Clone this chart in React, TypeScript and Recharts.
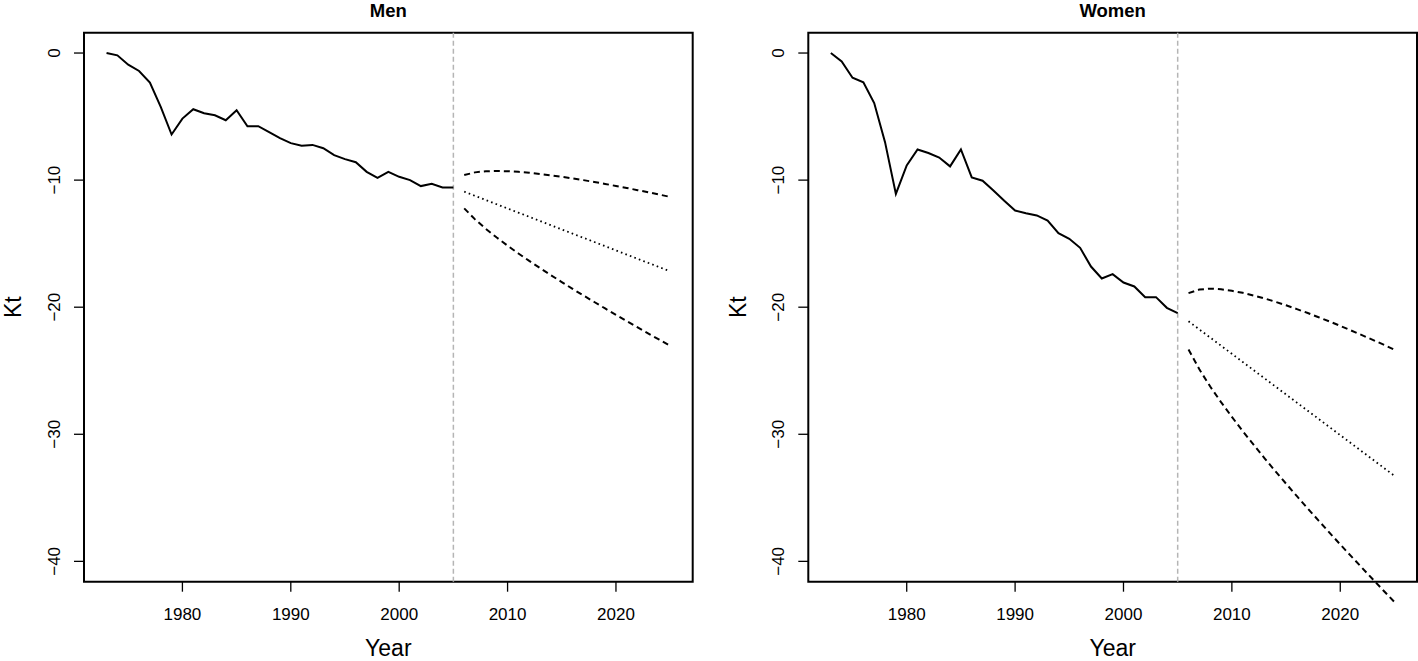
import { LineChart, Line, XAxis, YAxis, ReferenceLine, ReferenceArea } from "recharts"

// observed period
const histYears = [
  1973, 1974, 1975, 1976, 1977, 1978, 1979, 1980, 1981, 1982, 1983, 1984, 1985, 1986, 1987, 1988, 1989,
  1990, 1991, 1992, 1993, 1994, 1995, 1996, 1997, 1998, 1999, 2000, 2001, 2002, 2003, 2004, 2005,
]
const menKt = [
  0, -0.18, -0.92, -1.41, -2.33, -4.24, -6.41, -5.16, -4.42, -4.74, -4.9, -5.29, -4.5, -5.76, -5.76, -6.23,
  -6.7, -7.09, -7.3, -7.23, -7.49, -8.04, -8.35, -8.59, -9.35, -9.82, -9.35, -9.74, -10.0, -10.47, -10.29,
  -10.58, -10.58,
]
const womenKt = [
  0, -0.66, -1.94, -2.31, -3.94, -7.01, -11.08, -8.85, -7.59, -7.87, -8.22, -8.92, -7.59, -9.79, -10.05,
  -10.81, -11.63, -12.39, -12.6, -12.78, -13.18, -14.17, -14.62, -15.33, -16.8, -17.74, -17.4, -18.06,
  -18.37, -19.21, -19.21, -20.05, -20.47,
]

// forecast period
const fcYears = [
  2006, 2007, 2008, 2009, 2010, 2011, 2012, 2013, 2014, 2015, 2016, 2017, 2018, 2019, 2020, 2021, 2022,
  2023, 2024, 2025,
]
const menMid = [
  -10.91, -11.24, -11.57, -11.9, -12.23, -12.56, -12.89, -13.22, -13.55, -13.88, -14.21, -14.54, -14.87,
  -15.2, -15.53, -15.86, -16.19, -16.52, -16.85, -17.18,
]
const menHi = [
  -9.6, -9.39, -9.3, -9.28, -9.3, -9.35, -9.42, -9.52, -9.62, -9.74, -9.86, -10.0, -10.15, -10.3, -10.46,
  -10.62, -10.79, -10.96, -11.14, -11.32,
]
const menLo = [
  -12.22, -13.09, -13.84, -14.52, -15.16, -15.77, -16.36, -16.92, -17.48, -18.02, -18.56, -19.08, -19.59,
  -20.1, -20.6, -21.1, -21.59, -22.08, -22.56, -23.04,
]
const womenMid = [
  -21.11, -21.75, -22.39, -23.03, -23.67, -24.31, -24.95, -25.59, -26.23, -26.87, -27.51, -28.15, -28.79,
  -29.43, -30.07, -30.71, -31.35, -31.99, -32.63, -33.27,
]
const womenHi = [
  -18.89, -18.61, -18.54, -18.59, -18.71, -18.87, -19.08, -19.31, -19.57, -19.85, -20.15, -20.46, -20.79,
  -21.12, -21.47, -21.83, -22.2, -22.57, -22.95, -23.34,
]
const womenLo = [
  -23.33, -24.89, -26.24, -27.47, -28.63, -29.75, -30.82, -31.87, -32.89, -33.89, -34.87, -35.84, -36.79,
  -37.74, -38.67, -39.59, -40.5, -41.41, -42.31, -43.2,
]

const xTicks = [1980, 1990, 2000, 2010, 2020]
const yTicks = [0, -10, -20, -30, -40]
const xDomain = [1970.92, 2027.08]
const yDomain = [-41.6, 1.6]
const splitYear = 2005

const FONT = '"Liberation Sans", Arial, Helvetica, sans-serif'

function buildRows(kt: number[], lo: number[], mid: number[], hi: number[]) {
  const rows: Record<string, number>[] = histYears.map((year, i) => ({ year, kt: kt[i] }))
  fcYears.forEach((year, i) => rows.push({ year, lo: lo[i], mid: mid[i], hi: hi[i] }))
  return rows
}

const fmt = (v: number) => (v < 0 ? "\u2212" + Math.abs(v) : String(v))

function YTick({ x, y, payload }: any) {
  return (
    <text
      x={x}
      y={y}
      transform={`rotate(-90 ${x} ${y})`}
      textAnchor="middle"
      fontSize={17}
      fill="#000"
    >
      {fmt(payload.value)}
    </text>
  )
}

function KtLabel({ viewBox }: any) {
  const x = viewBox.x + viewBox.width - 62.5
  const y = viewBox.y + viewBox.height / 2
  return (
    <text x={x} y={y} transform={`rotate(-90 ${x} ${y})`} textAnchor="middle" fontSize={23} fill="#000">
      Kt
    </text>
  )
}

type PanelProps = {
  title: string
  left: number
  axisWidth: number
  marginRight: number
  rows: Record<string, number>[]
}

function Panel({ title, left, axisWidth, marginRight, rows }: PanelProps) {
  const width = 709
  const plotCenter = (axisWidth + width - marginRight) / 2
  return (
    <div style={{ position: "absolute", left, top: 0, width, height: 661 }}>
      <LineChart
        width={width}
        height={661}
        data={rows}
        margin={{ top: 32.7, right: marginRight, bottom: 0, left: 0 }}
      >
        <XAxis
          dataKey="year"
          type="number"
          domain={xDomain}
          allowDataOverflow
          ticks={xTicks}
          interval={0}
          height={79.3}
          axisLine={false}
          tickSize={10}
          tickMargin={16}
          tickLine={{ stroke: "#000", strokeWidth: 1.3 }}
          tick={{ fontSize: 17, fill: "#000" }}
          label={{ value: "Year", position: "insideBottom", offset: 5, fontSize: 23, fill: "#000" }}
        />
        <YAxis
          type="number"
          domain={yDomain}
          allowDataOverflow
          ticks={yTicks}
          interval={0}
          width={axisWidth}
          axisLine={false}
          tickSize={10}
          tickMargin={14}
          tickLine={{ stroke: "#000", strokeWidth: 1.3 }}
          tick={<YTick />}
          label={(p: any) => <KtLabel viewBox={p.viewBox} />}
        />
        <ReferenceLine x={splitYear} stroke="#b5b5b5" strokeWidth={1.5} strokeDasharray="5 3" />
        <Line type="linear" dataKey="kt" stroke="#000" strokeWidth={2} dot={false} isAnimationActive={false} />
        <Line
          type="linear"
          dataKey="hi"
          stroke="#000"
          strokeWidth={2}
          strokeDasharray="6 4"
          dot={false}
          isAnimationActive={false}
        />
        <Line
          type="linear"
          dataKey="mid"
          stroke="#000"
          strokeWidth={1.8}
          strokeDasharray="1.6 3.2"
          dot={false}
          isAnimationActive={false}
        />
        <Line
          type="linear"
          dataKey="lo"
          className="noclip"
          stroke="#000"
          strokeWidth={2}
          strokeDasharray="6 4"
          dot={false}
          isAnimationActive={false}
        />
        <ReferenceArea
          x1={xDomain[0]}
          x2={xDomain[1]}
          y1={yDomain[0]}
          y2={yDomain[1]}
          fill="none"
          stroke="#000"
          strokeWidth={2}
          ifOverflow="visible"
        />
      </LineChart>
      <svg
        width={width}
        height={30}
        style={{ position: "absolute", left: 0, top: 0, pointerEvents: "none" }}
      >
        <text x={plotCenter} y={17} textAnchor="middle" fontSize={18.5} fontWeight="bold" fill="#000">
          {title}
        </text>
      </svg>
    </div>
  )
}

export default function App() {
  return (
    <div
      style={{
        position: "absolute",
        left: 0,
        top: 0,
        width: 1418,
        height: 661,
        background: "#fff",
        fontFamily: FONT,
        overflow: "hidden",
      }}
    >
      <style>{`.noclip, .noclip * { clip-path: none !important; }`}</style>
      <Panel
        title="Men"
        left={0}
        axisWidth={84}
        marginRight={16.3}
        rows={buildRows(menKt, menLo, menMid, menHi)}
      />
      <Panel
        title="Women"
        left={709}
        axisWidth={99.3}
        marginRight={1}
        rows={buildRows(womenKt, womenLo, womenMid, womenHi)}
      />
    </div>
  )
}
